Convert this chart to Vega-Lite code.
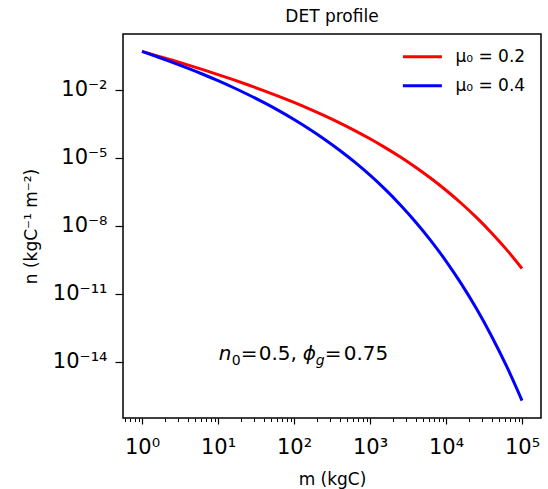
{
  "$schema": "https://vega.github.io/schema/vega-lite/v6.json",
  "width": 418,
  "height": 384,
  "autosize": "none",
  "padding": {"left": 123, "top": 34, "right": 7, "bottom": 71},
  "background": "white",
  "config": {
    "font": "DejaVu Sans",
    "view": {"stroke": "black", "strokeWidth": 1.5},
    "axis": {"labelColor": "black", "titleColor": "black", "tickColor": "black", "grid": false, "domain": false, "titleFontWeight": "normal", "labelFont": "DejaVu Sans", "titleFont": "DejaVu Sans"},
    "text": {"color": "black", "align": "left", "baseline": "alphabetic"}
  },
  "title": {"text": "DET profile", "fontSize": 17, "fontWeight": "normal", "color": "black", "anchor": "middle", "baseline": "alphabetic", "offset": 13, "dy": 18},
  "resolve": {"axis": {"x": "independent", "y": "independent"}},
  "layer": [
    {
      "data": {"values": [
        {"m": 1, "n": 0.5, "series": "μ₀ = 0.2"},
        {"m": 1.585, "n": 0.3211, "series": "μ₀ = 0.2"},
        {"m": 2.512, "n": 0.2037, "series": "μ₀ = 0.2"},
        {"m": 3.981, "n": 0.1275, "series": "μ₀ = 0.2"},
        {"m": 6.31, "n": 0.07867, "series": "μ₀ = 0.2"},
        {"m": 10, "n": 0.04771, "series": "μ₀ = 0.2"},
        {"m": 15.85, "n": 0.02839, "series": "μ₀ = 0.2"},
        {"m": 25.12, "n": 0.01654, "series": "μ₀ = 0.2"},
        {"m": 39.81, "n": 9.412e-3, "series": "μ₀ = 0.2"},
        {"m": 63.1, "n": 5.214e-3, "series": "μ₀ = 0.2"},
        {"m": 100, "n": 2.804e-3, "series": "μ₀ = 0.2"},
        {"m": 158.5, "n": 1.458e-3, "series": "μ₀ = 0.2"},
        {"m": 251.2, "n": 7.298e-4, "series": "μ₀ = 0.2"},
        {"m": 398.1, "n": 3.503e-4, "series": "μ₀ = 0.2"},
        {"m": 631, "n": 1.604e-4, "series": "μ₀ = 0.2"},
        {"m": 1000, "n": 6.96e-5, "series": "μ₀ = 0.2"},
        {"m": 1585, "n": 2.846e-5, "series": "μ₀ = 0.2"},
        {"m": 2512, "n": 1.088e-5, "series": "μ₀ = 0.2"},
        {"m": 3981, "n": 3.86e-6, "series": "μ₀ = 0.2"},
        {"m": 6310, "n": 1.259e-6, "series": "μ₀ = 0.2"},
        {"m": 10000, "n": 3.733e-7, "series": "μ₀ = 0.2"},
        {"m": 15849, "n": 9.956e-8, "series": "μ₀ = 0.2"},
        {"m": 25119, "n": 2.358e-8, "series": "μ₀ = 0.2"},
        {"m": 39811, "n": 4.883e-9, "series": "μ₀ = 0.2"},
        {"m": 63096, "n": 8.71e-10, "series": "μ₀ = 0.2"},
        {"m": 100000, "n": 1.312e-10, "series": "μ₀ = 0.2"},
        {"m": 1, "n": 0.5, "series": "μ₀ = 0.4"},
        {"m": 1.585, "n": 0.2912, "series": "μ₀ = 0.4"},
        {"m": 2.512, "n": 0.1656, "series": "μ₀ = 0.4"},
        {"m": 3.981, "n": 0.09169, "series": "μ₀ = 0.4"},
        {"m": 6.31, "n": 0.04926, "series": "μ₀ = 0.4"},
        {"m": 10, "n": 0.0256, "series": "μ₀ = 0.4"},
        {"m": 15.85, "n": 0.01281, "series": "μ₀ = 0.4"},
        {"m": 25.12, "n": 6.141e-3, "series": "μ₀ = 0.4"},
        {"m": 39.81, "n": 2.808e-3, "series": "μ₀ = 0.4"},
        {"m": 63.1, "n": 1.217e-3, "series": "μ₀ = 0.4"},
        {"m": 100, "n": 4.972e-4, "series": "μ₀ = 0.4"},
        {"m": 158.5, "n": 1.898e-4, "series": "μ₀ = 0.4"},
        {"m": 251.2, "n": 6.722e-5, "series": "μ₀ = 0.4"},
        {"m": 398.1, "n": 2.187e-5, "series": "μ₀ = 0.4"},
        {"m": 631, "n": 6.474e-6, "series": "μ₀ = 0.4"},
        {"m": 1000, "n": 1.723e-6, "series": "μ₀ = 0.4"},
        {"m": 1585, "n": 4.069e-7, "series": "μ₀ = 0.4"},
        {"m": 2512, "n": 8.406e-8, "series": "μ₀ = 0.4"},
        {"m": 3981, "n": 1.494e-8, "series": "μ₀ = 0.4"},
        {"m": 6310, "n": 2.243e-9, "series": "μ₀ = 0.4"},
        {"m": 10000, "n": 2.787e-10, "series": "μ₀ = 0.4"},
        {"m": 15849, "n": 2.8e-11, "series": "μ₀ = 0.4"},
        {"m": 25119, "n": 2.218e-12, "series": "μ₀ = 0.4"},
        {"m": 39811, "n": 1.344e-13, "series": "μ₀ = 0.4"},
        {"m": 63096, "n": 6.038e-15, "series": "μ₀ = 0.4"},
        {"m": 100000, "n": 1.937e-16, "series": "μ₀ = 0.4"}
      ]},
      "mark": {"type": "line", "strokeWidth": 3, "interpolate": "monotone"},
      "encoding": {
        "x": {"field": "m", "type": "quantitative",
          "scale": {"type": "log", "domain": [0.5623, 177828], "nice": false},
          "axis": {"orient": "bottom", "values": [1, 10, 100, 1000, 10000, 100000],
            "labelExpr": "'10' + ['⁰','¹','²','³','⁴','⁵'][round(log(datum.value)/LN10)]",
            "tickSize": 6, "tickWidth": 1.2, "labelFontSize": 21, "labelBaseline": "alphabetic", "labelPadding": 29,
            "labelFlush": false, "labelOverlap": false,
            "title": "m (kgC)", "titleFontSize": 17, "titleY": 66, "titleBaseline": "alphabetic"}},
        "y": {"field": "n", "type": "quantitative",
          "scale": {"type": "log", "domain": [3.29e-17, 2.95], "nice": false},
          "axis": {"orient": "left", "values": [0.01, 0.00001, 1e-8, 1e-11, 1e-14],
            "labelExpr": "'10' + ['⁻²','⁻⁵','⁻⁸','⁻¹¹','⁻¹⁴'][(-round(log(datum.value)/LN10)-2)/3]",
            "tickSize": 8, "tickWidth": 1.2, "labelFontSize": 21, "labelBaseline": "middle", "labelPadding": 8,
            "labelFlush": false, "labelOverlap": false,
            "title": "n (kgC⁻¹ m⁻²)", "titleFontSize": 17, "titleX": -87, "titleY": 192, "titleAngle": 270, "titleBaseline": "alphabetic", "titleAlign": "center"}},
        "color": {"field": "series", "type": "nominal",
          "scale": {"domain": ["μ₀ = 0.2", "μ₀ = 0.4"], "range": ["#ff0000", "#0000ff"]},
          "legend": {"orient": "none", "legendX": 278.4, "legendY": 1.8, "title": null, "symbolType": "stroke", "symbolSize": 1521, "symbolStrokeWidth": 3, "labelFontSize": 17, "labelColor": "black", "labelOffset": 12, "rowPadding": -1, "padding": 0}}
      }
    },
    {
      "data": {"values": [{}]},
      "mark": {"type": "text", "text": "n", "fontSize": 20, "fontStyle": "italic"},
      "encoding": {
        "x": {"datum": 10.21, "type": "quantitative",
          "axis": {"orient": "bottom", "values": [0.6,0.7,0.8,0.9,2,3,4,5,6,7,8,9,20,30,40,50,60,70,80,90,200,300,400,500,600,700,800,900,2000,3000,4000,5000,6000,7000,8000,9000,20000,30000,40000,50000,60000,70000,80000,90000],
            "labels": false, "tickSize": 3.5, "tickWidth": 1, "title": null}},
        "y": {"datum": 1.15e-14, "type": "quantitative", "axis": null}
      }
    },
    {
      "data": {"values": [{}]},
      "mark": {"type": "text", "text": "0", "fontSize": 14, "dx": 13, "dy": 4.5},
      "encoding": {
        "x": {"datum": 10.21, "type": "quantitative", "axis": null},
        "y": {"datum": 1.15e-14, "type": "quantitative", "axis": null}
      }
    },
    {
      "data": {"values": [{}]},
      "mark": {"type": "text", "text": "=", "fontSize": 20, "dx": 22},
      "encoding": {
        "x": {"datum": 10.21, "type": "quantitative", "axis": null},
        "y": {"datum": 1.15e-14, "type": "quantitative", "axis": null}
      }
    },
    {
      "data": {"values": [{}]},
      "mark": {"type": "text", "text": "0.5,", "fontSize": 20, "dx": 40},
      "encoding": {
        "x": {"datum": 10.21, "type": "quantitative", "axis": null},
        "y": {"datum": 1.15e-14, "type": "quantitative", "axis": null}
      }
    },
    {
      "data": {"values": [{}]},
      "mark": {"type": "text", "text": "ϕ", "fontSize": 20, "fontStyle": "italic", "dx": 84},
      "encoding": {
        "x": {"datum": 10.21, "type": "quantitative", "axis": null},
        "y": {"datum": 1.15e-14, "type": "quantitative", "axis": null}
      }
    },
    {
      "data": {"values": [{}]},
      "mark": {"type": "text", "text": "g", "fontSize": 14, "fontStyle": "italic", "dx": 97, "dy": 4.5},
      "encoding": {
        "x": {"datum": 10.21, "type": "quantitative", "axis": null},
        "y": {"datum": 1.15e-14, "type": "quantitative", "axis": null}
      }
    },
    {
      "data": {"values": [{}]},
      "mark": {"type": "text", "text": "=", "fontSize": 20, "dx": 106},
      "encoding": {
        "x": {"datum": 10.21, "type": "quantitative", "axis": null},
        "y": {"datum": 1.15e-14, "type": "quantitative", "axis": null}
      }
    },
    {
      "data": {"values": [{}]},
      "mark": {"type": "text", "text": "0.75", "fontSize": 20, "dx": 125},
      "encoding": {
        "x": {"datum": 10.21, "type": "quantitative", "axis": null},
        "y": {"datum": 1.15e-14, "type": "quantitative", "axis": null}
      }
    }
  ]
}
